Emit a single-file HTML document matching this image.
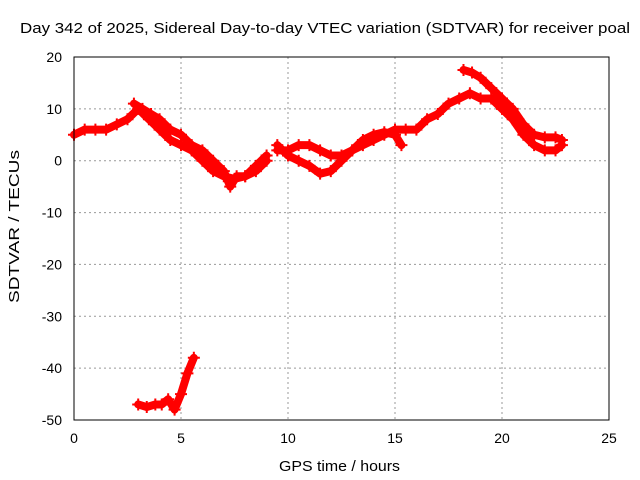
<!DOCTYPE html>
<html><head><meta charset="utf-8"><style>
body{margin:0;background:#fff}
svg{display:block;font-family:"Liberation Sans",sans-serif}
</style></head><body>
<svg id="chart" width="640" height="480" viewBox="0 0 640 480">
<rect width="640" height="480" fill="#fff"/>
<text x="20" y="33" font-size="15" textLength="610" lengthAdjust="spacingAndGlyphs">Day 342 of 2025, Sidereal Day-to-day VTEC variation (SDTVAR) for receiver poal</text>
<text x="279" y="471" font-size="15" textLength="121" lengthAdjust="spacingAndGlyphs">GPS time / hours</text>
<text transform="translate(19,303) rotate(-90)" font-size="15" textLength="153" lengthAdjust="spacingAndGlyphs">SDTVAR / TECUs</text>
<g id="grid"></g><g id="series"></g>
<rect x="74" y="57" width="535" height="363" fill="none" stroke="#000" stroke-width="1"/>
<g id="ticks"></g>
</svg>
<script>
const xTicks=[0,5,10,15,20,25];
const yTicks=[20,10,0,-10,-20,-30,-40,-50];
const trackA_x=[0,0.5,1,1.5,2,2.5,3,3.5,4,4.5,5,5.5,6,6.5,7,7.5,8,8.5,9];
const trackA_y=[5,6,6,6,7,8,10,8,6,4,3,2,0,-2,-3,-3.5,-3,-2,0];
const trackB_x=[2.8,3.2,3.6,4,4.5,5,5.5,6,6.5,7,7.3,7.6,8,8.5,9];
const trackB_y=[11,10,9,8,6,5,3,2,0,-2,-5,-3,-3,-1,1];
const trackC_x=[9.5,10,10.5,11,11.5,12,12.5,13,13.5,14,14.5,15,15.5,16,16.5,17,17.5,18,18.5,19,19.5,20,20.5,21,21.5,22,22.5,22.8];
const trackC_y=[2,2,3,3,2,1,1,2,3,4,5,6,6,6,8,9,11,12,13,12,12,10,8,5,3,2,2,3];
const trackD_x=[9.5,10,10.5,11,11.5,12,12.5,13,13.5,14,14.5,15,15.3];
const trackD_y=[3,1,0,-1,-2.5,-2,0,2,4,5,5.5,5,3];
const trackE_x=[18.2,18.6,19,19.5,20,20.5,21,21.5,22,22.5,22.8];
const trackE_y=[17.5,17,16,14,12,10,7,5,4.5,4.5,4];
const trackF_x=[3,3.4,3.8,4.1,4.4,4.7,5,5.3,5.6];
const trackF_y=[-47,-47.5,-47,-47,-46,-48,-45,-41,-38];
const X=v=>74+v*535/25, Y=v=>57+(20-v)*363/70;
const NS="http://www.w3.org/2000/svg";
const mk=(t,p)=>{const e=document.createElementNS(NS,t);for(const k in p)e.setAttribute(k,p[k]);p.parent.appendChild(e);return e;};
const grid=document.getElementById('grid'),ticks=document.getElementById('ticks'),ser=document.getElementById('series');
xTicks.forEach(t=>{
 if(t>0&&t<25){const g=mk('line',{parent:grid,x1:X(t),x2:X(t),y1:57,y2:420,stroke:'#999','stroke-dasharray':'2,3'});
 
 }
 const l=mk('text',{parent:ticks,x:X(t),y:443,'font-size':14,'text-anchor':'middle'});l.textContent=t;
 
 
});
yTicks.forEach(t=>{
 if(t<20&&t>-50){const g=mk('line',{parent:grid,x1:74,x2:609,y1:Y(t),y2:Y(t),stroke:'#999','stroke-dasharray':'2,3'});
 
 }
 const l=mk('text',{parent:ticks,x:62,y:Y(t)+5,'font-size':14,'text-anchor':'end'});l.textContent=t;
 
 
});
[[trackA_x,trackA_y],[trackB_x,trackB_y],[trackC_x,trackC_y],[trackD_x,trackD_y],[trackE_x,trackE_y],[trackF_x,trackF_y]].forEach((tr,i)=>{
 const pts=tr[0].map((x,j)=>X(x)+','+Y(tr[1][j])).join(' ');
 const p=mk('polyline',{parent:ser,points:pts,fill:'none',stroke:'#f00','stroke-width':8,'stroke-linejoin':'round','stroke-linecap':'round'});
 
 
 tr[0].forEach((x,j)=>{
  const m=mk('path',{parent:ser,d:`M${X(x)-6},${Y(tr[1][j])}h12M${X(x)},${Y(tr[1][j])-6}v12`,stroke:'#f00','stroke-width':2});
  
  
 });
});
</script>
</body></html>
